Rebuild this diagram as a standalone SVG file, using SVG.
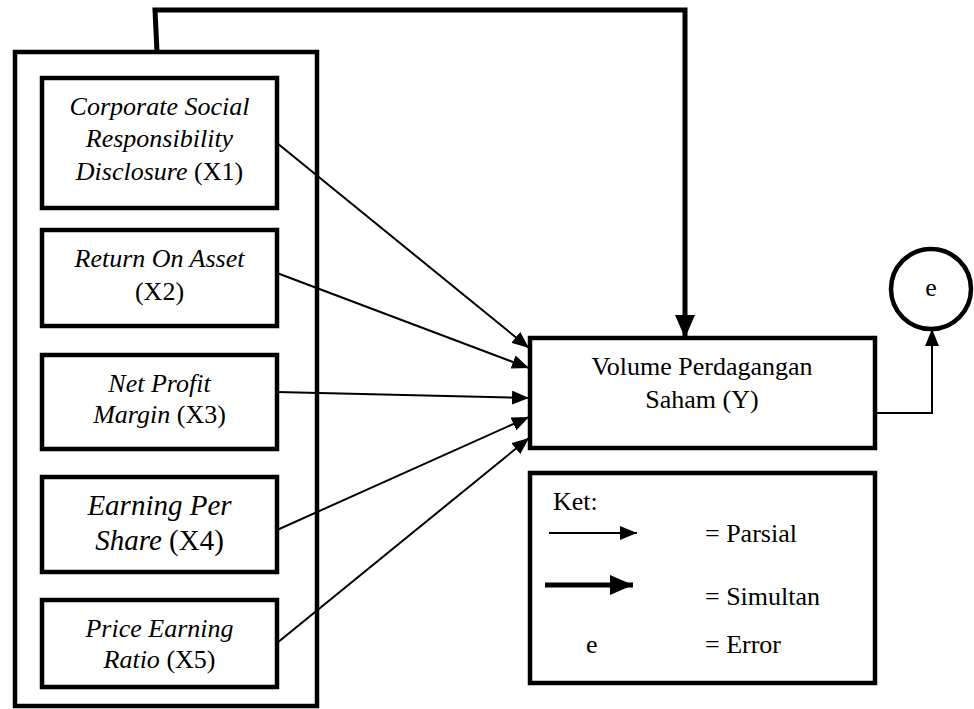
<svg xmlns="http://www.w3.org/2000/svg" width="974" height="709" viewBox="0 0 974 709">
<defs>
<marker id="thin" markerUnits="userSpaceOnUse" markerWidth="18" markerHeight="14" refX="17" refY="7" orient="auto"><path d="M0,0 L17,7 L0,14 Z" fill="#000"/></marker>
<marker id="thick" markerUnits="userSpaceOnUse" markerWidth="24" markerHeight="20" refX="23" refY="10" orient="auto"><path d="M0,0 L23,10 L0,20 Z" fill="#000"/></marker>
</defs>
<style>
.box{fill:#fff;stroke:#000;stroke-width:4.5}
text{font-family:"Times New Roman",Tinos,"Liberation Serif",serif;font-size:26px;fill:#000}
.t{text-anchor:middle}
.i{font-style:italic}
.big{font-size:29px}
.thin{stroke:#000;stroke-width:2;fill:none}
.thk{stroke:#000;stroke-width:5;fill:none}
</style>
<rect width="974" height="709" fill="#fff"/>
<g id="outer"><rect class="box" x="15" y="52" width="302" height="654"/></g>
<g id="x1"><rect class="box" x="42" y="78" width="235" height="130"/>
<text class="t i" x="159.5" y="115">Corporate Social</text>
<text class="t i" x="159.5" y="147">Responsibility</text>
<text class="t" x="159.5" y="180"><tspan class="i">Disclosure</tspan> (X1)</text></g>
<g id="x2"><rect class="box" x="42" y="230" width="235" height="96"/>
<text class="t i" x="159.5" y="267">Return On Asset</text>
<text class="t" x="159.5" y="300">(X2)</text></g>
<g id="x3"><rect class="box" x="42" y="355" width="235" height="94"/>
<text class="t i" x="159.5" y="392">Net Profit</text>
<text class="t" x="159.5" y="423"><tspan class="i">Margin</tspan> (X3)</text></g>
<g id="x4"><rect class="box" x="42" y="477" width="235" height="95"/>
<text class="t i big" x="159.5" y="515">Earning Per</text>
<text class="t big" x="159.5" y="550"><tspan class="i">Share</tspan> (X4)</text></g>
<g id="x5"><rect class="box" x="42" y="600" width="235" height="87"/>
<text class="t i" x="159.5" y="637">Price Earning</text>
<text class="t" x="159.5" y="668"><tspan class="i">Ratio</tspan> (X5)</text></g>
<g id="y"><rect class="box" x="530" y="338" width="345" height="110"/>
<text class="t" x="702" y="375">Volume Perdagangan</text>
<text class="t" x="702" y="408">Saham (Y)</text></g>
<g id="e"><circle cx="931" cy="289" r="40" fill="#fff" stroke="#000" stroke-width="4.5"/>
<text class="t" x="931" y="296">e</text></g>
<g id="legend"><rect class="box" x="530" y="473" width="345" height="210"/>
<text x="553" y="510">Ket:</text>
<line class="thin" x1="549" y1="533" x2="637" y2="533" marker-end="url(#thin)"/>
<text x="705" y="542">= Parsial</text>
<line class="thk" x1="545" y1="585" x2="633" y2="585" marker-end="url(#thick)"/>
<text x="705" y="605">= Simultan</text>
<text x="586" y="653">e</text>
<text x="705" y="653">= Error</text></g>
<g id="connectors">
<polyline class="thk" points="157,52 155,10 685,10 685,338" marker-end="url(#thick)"/>
<line class="thin" x1="277" y1="143" x2="529" y2="348" marker-end="url(#thin)"/>
<line class="thin" x1="277" y1="273" x2="529" y2="368" marker-end="url(#thin)"/>
<line class="thin" x1="277" y1="392" x2="529" y2="398" marker-end="url(#thin)"/>
<line class="thin" x1="277" y1="530" x2="529" y2="417" marker-end="url(#thin)"/>
<line class="thin" x1="277" y1="643" x2="529" y2="438" marker-end="url(#thin)"/>
<polyline class="thin" points="875,413 932,413 932,329" marker-end="url(#thin)"/>
</g>
</svg>
